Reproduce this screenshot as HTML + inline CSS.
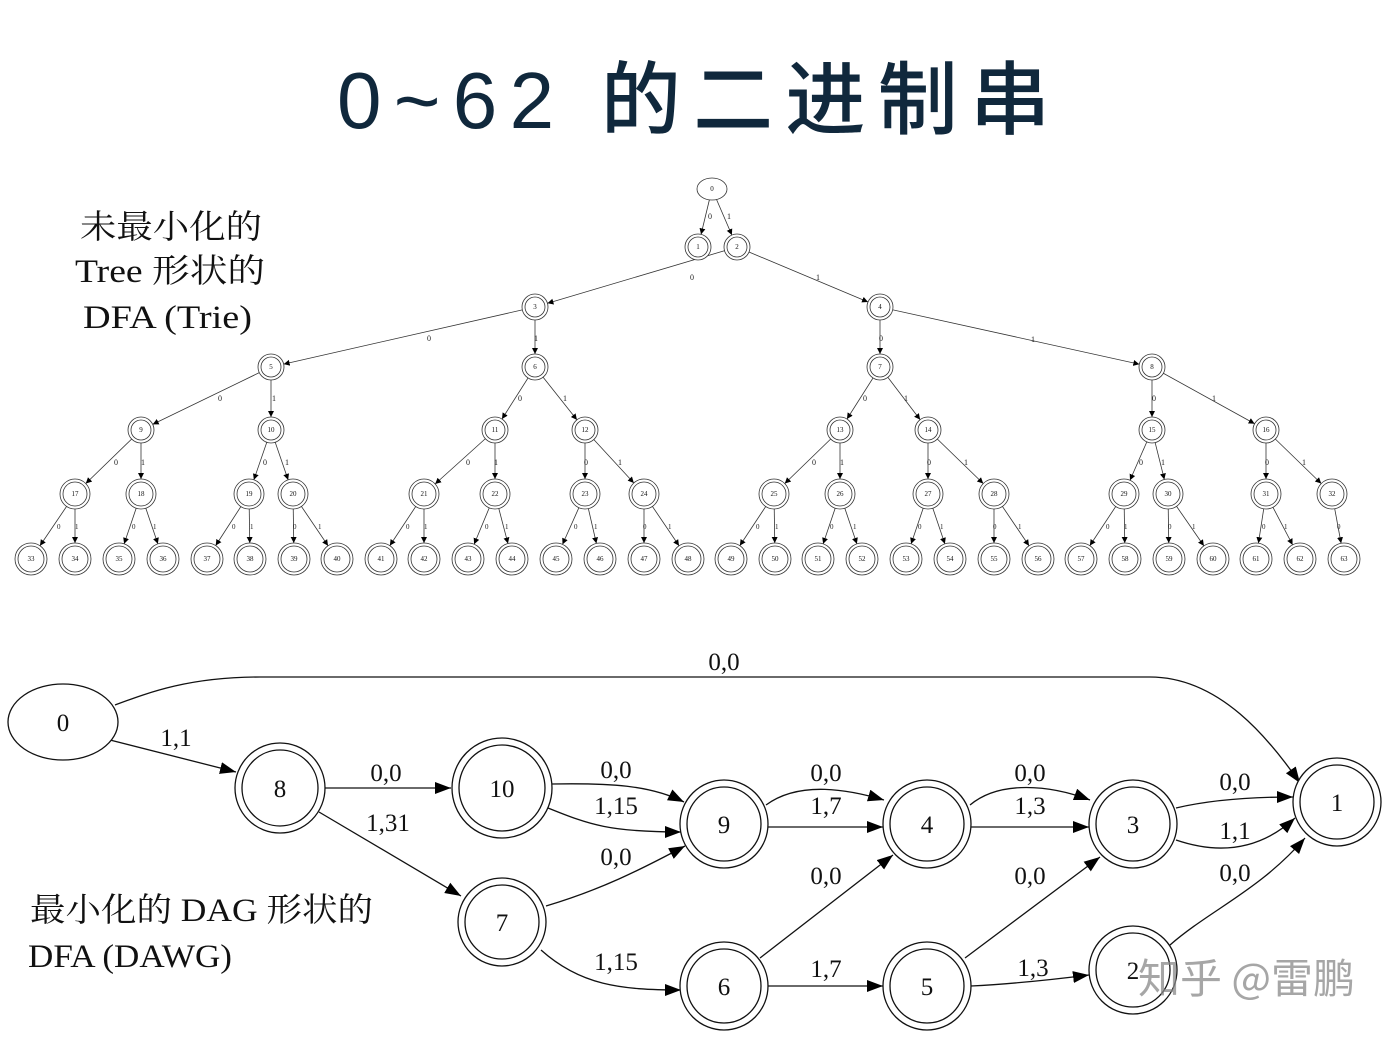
<!DOCTYPE html>
<html><head><meta charset="utf-8"><style>
body{margin:0;background:#fff;width:1391px;height:1037px;overflow:hidden}
svg{display:block}
.t text{font-family:"Liberation Serif",serif;font-size:7px;text-anchor:middle}
.el{font-family:"Liberation Serif",serif;font-size:8px}
.d{font-family:"Liberation Serif",serif;font-size:25px;text-anchor:middle}
.lab{font-family:"Liberation Serif","Noto Serif CJK SC",serif;font-size:33px}
</style></head><body>
<svg width="1391" height="1037" viewBox="0 0 1391 1037" xmlns="http://www.w3.org/2000/svg">
<defs>
<marker id="a13" markerUnits="userSpaceOnUse" markerWidth="40" markerHeight="10" refX="19" refY="3" orient="auto"><path d="M0,0L6,3L0,6z"/></marker>
<marker id="a15" markerUnits="userSpaceOnUse" markerWidth="40" markerHeight="10" refX="21" refY="3" orient="auto"><path d="M0,0L6,3L0,6z"/></marker>
<marker id="a16" markerUnits="userSpaceOnUse" markerWidth="40" markerHeight="10" refX="22" refY="3" orient="auto"><path d="M0,0L6,3L0,6z"/></marker>
<marker id="B" markerUnits="userSpaceOnUse" markerWidth="20" markerHeight="14" refX="16" refY="6" orient="auto"><path d="M0,0L16,6L0,12z"/></marker>
</defs>
<text x="337" y="128" textLength="713" lengthAdjust="spacing" font-family="Liberation Sans,'Noto Sans CJK SC',sans-serif" font-size="80" font-weight="500" fill="#10283c">0~62 的二进制串</text>

<g class="lab" fill="#111">
<text x="80" y="238" textLength="182" lengthAdjust="spacingAndGlyphs">未最小化的</text>
<text x="75" y="282" textLength="190" lengthAdjust="spacingAndGlyphs">Tree 形状的</text>
<text x="83" y="328" textLength="169" lengthAdjust="spacingAndGlyphs">DFA (Trie)</text>
<text x="30" y="921" textLength="343" lengthAdjust="spacingAndGlyphs">最小化的 DAG 形状的</text>
<text x="28" y="967" textLength="204" lengthAdjust="spacingAndGlyphs">DFA (DAWG)</text>
</g>

<!-- tree edges -->
<g stroke="#333" stroke-width="0.8">
<line x1="712" y1="189" x2="698" y2="247" marker-end="url(#a13)"/>
<line x1="712" y1="189" x2="737" y2="247" marker-end="url(#a13)"/>
<line x1="737" y1="247" x2="535" y2="307" marker-end="url(#a13)"/>
<line x1="737" y1="247" x2="880" y2="307" marker-end="url(#a13)"/>
<line x1="535" y1="307" x2="271" y2="367" marker-end="url(#a13)"/>
<line x1="535" y1="307" x2="535" y2="367" marker-end="url(#a13)"/>
<line x1="880" y1="307" x2="880" y2="367" marker-end="url(#a13)"/>
<line x1="880" y1="307" x2="1152" y2="367" marker-end="url(#a13)"/>
<line x1="271" y1="367" x2="141" y2="430" marker-end="url(#a13)"/>
<line x1="271" y1="367" x2="271" y2="430" marker-end="url(#a13)"/>
<line x1="535" y1="367" x2="495" y2="430" marker-end="url(#a13)"/>
<line x1="535" y1="367" x2="585" y2="430" marker-end="url(#a13)"/>
<line x1="880" y1="367" x2="840" y2="430" marker-end="url(#a13)"/>
<line x1="880" y1="367" x2="928" y2="430" marker-end="url(#a13)"/>
<line x1="1152" y1="367" x2="1152" y2="430" marker-end="url(#a13)"/>
<line x1="1152" y1="367" x2="1266" y2="430" marker-end="url(#a13)"/>
<line x1="141" y1="430" x2="75" y2="494" marker-end="url(#a15)"/>
<line x1="141" y1="430" x2="141" y2="494" marker-end="url(#a15)"/>
<line x1="271" y1="430" x2="249" y2="494" marker-end="url(#a15)"/>
<line x1="271" y1="430" x2="293" y2="494" marker-end="url(#a15)"/>
<line x1="495" y1="430" x2="424" y2="494" marker-end="url(#a15)"/>
<line x1="495" y1="430" x2="495" y2="494" marker-end="url(#a15)"/>
<line x1="585" y1="430" x2="585" y2="494" marker-end="url(#a15)"/>
<line x1="585" y1="430" x2="644" y2="494" marker-end="url(#a15)"/>
<line x1="840" y1="430" x2="774" y2="494" marker-end="url(#a15)"/>
<line x1="840" y1="430" x2="840" y2="494" marker-end="url(#a15)"/>
<line x1="928" y1="430" x2="928" y2="494" marker-end="url(#a15)"/>
<line x1="928" y1="430" x2="994" y2="494" marker-end="url(#a15)"/>
<line x1="1152" y1="430" x2="1124" y2="494" marker-end="url(#a15)"/>
<line x1="1152" y1="430" x2="1168" y2="494" marker-end="url(#a15)"/>
<line x1="1266" y1="430" x2="1266" y2="494" marker-end="url(#a15)"/>
<line x1="1266" y1="430" x2="1332" y2="494" marker-end="url(#a15)"/>
<line x1="75" y1="494" x2="31" y2="559" marker-end="url(#a16)"/>
<line x1="75" y1="494" x2="75" y2="559" marker-end="url(#a16)"/>
<line x1="141" y1="494" x2="119" y2="559" marker-end="url(#a16)"/>
<line x1="141" y1="494" x2="163" y2="559" marker-end="url(#a16)"/>
<line x1="249" y1="494" x2="207" y2="559" marker-end="url(#a16)"/>
<line x1="249" y1="494" x2="250" y2="559" marker-end="url(#a16)"/>
<line x1="293" y1="494" x2="294" y2="559" marker-end="url(#a16)"/>
<line x1="293" y1="494" x2="337" y2="559" marker-end="url(#a16)"/>
<line x1="424" y1="494" x2="381" y2="559" marker-end="url(#a16)"/>
<line x1="424" y1="494" x2="424" y2="559" marker-end="url(#a16)"/>
<line x1="495" y1="494" x2="468" y2="559" marker-end="url(#a16)"/>
<line x1="495" y1="494" x2="512" y2="559" marker-end="url(#a16)"/>
<line x1="585" y1="494" x2="556" y2="559" marker-end="url(#a16)"/>
<line x1="585" y1="494" x2="600" y2="559" marker-end="url(#a16)"/>
<line x1="644" y1="494" x2="644" y2="559" marker-end="url(#a16)"/>
<line x1="644" y1="494" x2="688" y2="559" marker-end="url(#a16)"/>
<line x1="774" y1="494" x2="731" y2="559" marker-end="url(#a16)"/>
<line x1="774" y1="494" x2="775" y2="559" marker-end="url(#a16)"/>
<line x1="840" y1="494" x2="818" y2="559" marker-end="url(#a16)"/>
<line x1="840" y1="494" x2="862" y2="559" marker-end="url(#a16)"/>
<line x1="928" y1="494" x2="906" y2="559" marker-end="url(#a16)"/>
<line x1="928" y1="494" x2="950" y2="559" marker-end="url(#a16)"/>
<line x1="994" y1="494" x2="994" y2="559" marker-end="url(#a16)"/>
<line x1="994" y1="494" x2="1038" y2="559" marker-end="url(#a16)"/>
<line x1="1124" y1="494" x2="1081" y2="559" marker-end="url(#a16)"/>
<line x1="1124" y1="494" x2="1125" y2="559" marker-end="url(#a16)"/>
<line x1="1168" y1="494" x2="1169" y2="559" marker-end="url(#a16)"/>
<line x1="1168" y1="494" x2="1213" y2="559" marker-end="url(#a16)"/>
<line x1="1266" y1="494" x2="1256" y2="559" marker-end="url(#a16)"/>
<line x1="1266" y1="494" x2="1300" y2="559" marker-end="url(#a16)"/>
<line x1="1332" y1="494" x2="1344" y2="559" marker-end="url(#a16)"/>
</g>
<g class="el" fill="#222">
<text x="708" y="219">0</text><text x="727" y="219">1</text>
<text x="690" y="280">0</text><text x="816" y="280">1</text>
<text x="427" y="341">0</text><text x="534" y="341">1</text><text x="879" y="341">0</text><text x="1031" y="342">1</text>
<text x="218" y="401">0</text><text x="272" y="401">1</text><text x="518" y="401">0</text><text x="563" y="401">1</text>
<text x="863" y="401">0</text><text x="904" y="401">1</text><text x="1152" y="401">0</text><text x="1212" y="401">1</text>
<text x="114" y="465">0</text><text x="141" y="465">1</text><text x="263" y="465">0</text><text x="285" y="465">1</text>
<text x="466" y="465">0</text><text x="494" y="465">1</text><text x="584" y="465">0</text><text x="618" y="465">1</text>
<text x="812" y="465">0</text><text x="840" y="465">1</text><text x="927" y="465">0</text><text x="964" y="465">1</text>
<text x="1139" y="465">0</text><text x="1161" y="465">1</text><text x="1265" y="465">0</text><text x="1302" y="465">1</text>
<g font-size="7">
<text x="57" y="529">0</text><text x="75" y="529">1</text><text x="132" y="529">0</text><text x="153" y="529">1</text>
<text x="232" y="529">0</text><text x="250" y="529">1</text><text x="293" y="529">0</text><text x="318" y="529">1</text>
<text x="406" y="529">0</text><text x="424" y="529">1</text><text x="485" y="529">0</text><text x="505" y="529">1</text>
<text x="574" y="529">0</text><text x="594" y="529">1</text><text x="643" y="529">0</text><text x="668" y="529">1</text>
<text x="756" y="529">0</text><text x="775" y="529">1</text><text x="830" y="529">0</text><text x="853" y="529">1</text>
<text x="918" y="529">0</text><text x="940" y="529">1</text><text x="993" y="529">0</text><text x="1018" y="529">1</text>
<text x="1106" y="529">0</text><text x="1124" y="529">1</text><text x="1168" y="529">0</text><text x="1192" y="529">1</text>
<text x="1262" y="529">0</text><text x="1284" y="529">1</text><text x="1337" y="529">0</text>
</g>
</g>

<!-- tree nodes -->
<g fill="#fff" stroke="#333" stroke-width="0.8">
<ellipse cx="712" cy="189" rx="15" ry="11"/>
<g>
<circle cx="698" cy="247" r="13"/><circle cx="698" cy="247" r="10"/>
<circle cx="737" cy="247" r="13"/><circle cx="737" cy="247" r="10"/>
<circle cx="535" cy="307" r="13"/><circle cx="535" cy="307" r="10"/>
<circle cx="880" cy="307" r="13"/><circle cx="880" cy="307" r="10"/>
<circle cx="271" cy="367" r="13"/><circle cx="271" cy="367" r="10"/>
<circle cx="535" cy="367" r="13"/><circle cx="535" cy="367" r="10"/>
<circle cx="880" cy="367" r="13"/><circle cx="880" cy="367" r="10"/>
<circle cx="1152" cy="367" r="13"/><circle cx="1152" cy="367" r="10"/>
<circle cx="141" cy="430" r="13"/><circle cx="141" cy="430" r="10"/>
<circle cx="271" cy="430" r="13"/><circle cx="271" cy="430" r="10"/>
<circle cx="495" cy="430" r="13"/><circle cx="495" cy="430" r="10"/>
<circle cx="585" cy="430" r="13"/><circle cx="585" cy="430" r="10"/>
<circle cx="840" cy="430" r="13"/><circle cx="840" cy="430" r="10"/>
<circle cx="928" cy="430" r="13"/><circle cx="928" cy="430" r="10"/>
<circle cx="1152" cy="430" r="13"/><circle cx="1152" cy="430" r="10"/>
<circle cx="1266" cy="430" r="13"/><circle cx="1266" cy="430" r="10"/>
</g>
<g>
<circle cx="75" cy="494" r="15"/><circle cx="75" cy="494" r="12"/>
<circle cx="141" cy="494" r="15"/><circle cx="141" cy="494" r="12"/>
<circle cx="249" cy="494" r="15"/><circle cx="249" cy="494" r="12"/>
<circle cx="293" cy="494" r="15"/><circle cx="293" cy="494" r="12"/>
<circle cx="424" cy="494" r="15"/><circle cx="424" cy="494" r="12"/>
<circle cx="495" cy="494" r="15"/><circle cx="495" cy="494" r="12"/>
<circle cx="585" cy="494" r="15"/><circle cx="585" cy="494" r="12"/>
<circle cx="644" cy="494" r="15"/><circle cx="644" cy="494" r="12"/>
<circle cx="774" cy="494" r="15"/><circle cx="774" cy="494" r="12"/>
<circle cx="840" cy="494" r="15"/><circle cx="840" cy="494" r="12"/>
<circle cx="928" cy="494" r="15"/><circle cx="928" cy="494" r="12"/>
<circle cx="994" cy="494" r="15"/><circle cx="994" cy="494" r="12"/>
<circle cx="1124" cy="494" r="15"/><circle cx="1124" cy="494" r="12"/>
<circle cx="1168" cy="494" r="15"/><circle cx="1168" cy="494" r="12"/>
<circle cx="1266" cy="494" r="15"/><circle cx="1266" cy="494" r="12"/>
<circle cx="1332" cy="494" r="15"/><circle cx="1332" cy="494" r="12"/>
</g>
<g>
<circle cx="31" cy="559" r="16"/><circle cx="31" cy="559" r="13"/>
<circle cx="75" cy="559" r="16"/><circle cx="75" cy="559" r="13"/>
<circle cx="119" cy="559" r="16"/><circle cx="119" cy="559" r="13"/>
<circle cx="163" cy="559" r="16"/><circle cx="163" cy="559" r="13"/>
<circle cx="207" cy="559" r="16"/><circle cx="207" cy="559" r="13"/>
<circle cx="250" cy="559" r="16"/><circle cx="250" cy="559" r="13"/>
<circle cx="294" cy="559" r="16"/><circle cx="294" cy="559" r="13"/>
<circle cx="337" cy="559" r="16"/><circle cx="337" cy="559" r="13"/>
<circle cx="381" cy="559" r="16"/><circle cx="381" cy="559" r="13"/>
<circle cx="424" cy="559" r="16"/><circle cx="424" cy="559" r="13"/>
<circle cx="468" cy="559" r="16"/><circle cx="468" cy="559" r="13"/>
<circle cx="512" cy="559" r="16"/><circle cx="512" cy="559" r="13"/>
<circle cx="556" cy="559" r="16"/><circle cx="556" cy="559" r="13"/>
<circle cx="600" cy="559" r="16"/><circle cx="600" cy="559" r="13"/>
<circle cx="644" cy="559" r="16"/><circle cx="644" cy="559" r="13"/>
<circle cx="688" cy="559" r="16"/><circle cx="688" cy="559" r="13"/>
<circle cx="731" cy="559" r="16"/><circle cx="731" cy="559" r="13"/>
<circle cx="775" cy="559" r="16"/><circle cx="775" cy="559" r="13"/>
<circle cx="818" cy="559" r="16"/><circle cx="818" cy="559" r="13"/>
<circle cx="862" cy="559" r="16"/><circle cx="862" cy="559" r="13"/>
<circle cx="906" cy="559" r="16"/><circle cx="906" cy="559" r="13"/>
<circle cx="950" cy="559" r="16"/><circle cx="950" cy="559" r="13"/>
<circle cx="994" cy="559" r="16"/><circle cx="994" cy="559" r="13"/>
<circle cx="1038" cy="559" r="16"/><circle cx="1038" cy="559" r="13"/>
<circle cx="1081" cy="559" r="16"/><circle cx="1081" cy="559" r="13"/>
<circle cx="1125" cy="559" r="16"/><circle cx="1125" cy="559" r="13"/>
<circle cx="1169" cy="559" r="16"/><circle cx="1169" cy="559" r="13"/>
<circle cx="1213" cy="559" r="16"/><circle cx="1213" cy="559" r="13"/>
<circle cx="1256" cy="559" r="16"/><circle cx="1256" cy="559" r="13"/>
<circle cx="1300" cy="559" r="16"/><circle cx="1300" cy="559" r="13"/>
<circle cx="1344" cy="559" r="16"/><circle cx="1344" cy="559" r="13"/>
</g>
</g>
<g class="t" fill="#111">
<text x="712" y="191">0</text><text x="698" y="249">1</text><text x="737" y="249">2</text>
<text x="535" y="309">3</text><text x="880" y="309">4</text>
<text x="271" y="369">5</text><text x="535" y="369">6</text><text x="880" y="369">7</text><text x="1152" y="369">8</text>
<text x="141" y="432">9</text><text x="271" y="432">10</text><text x="495" y="432">11</text><text x="585" y="432">12</text>
<text x="840" y="432">13</text><text x="928" y="432">14</text><text x="1152" y="432">15</text><text x="1266" y="432">16</text>
<text x="75" y="496">17</text><text x="141" y="496">18</text><text x="249" y="496">19</text><text x="293" y="496">20</text>
<text x="424" y="496">21</text><text x="495" y="496">22</text><text x="585" y="496">23</text><text x="644" y="496">24</text>
<text x="774" y="496">25</text><text x="840" y="496">26</text><text x="928" y="496">27</text><text x="994" y="496">28</text>
<text x="1124" y="496">29</text><text x="1168" y="496">30</text><text x="1266" y="496">31</text><text x="1332" y="496">32</text>
<text x="31" y="561">33</text><text x="75" y="561">34</text><text x="119" y="561">35</text><text x="163" y="561">36</text>
<text x="207" y="561">37</text><text x="250" y="561">38</text><text x="294" y="561">39</text><text x="337" y="561">40</text>
<text x="381" y="561">41</text><text x="424" y="561">42</text><text x="468" y="561">43</text><text x="512" y="561">44</text>
<text x="556" y="561">45</text><text x="600" y="561">46</text><text x="644" y="561">47</text><text x="688" y="561">48</text>
<text x="731" y="561">49</text><text x="775" y="561">50</text><text x="818" y="561">51</text><text x="862" y="561">52</text>
<text x="906" y="561">53</text><text x="950" y="561">54</text><text x="994" y="561">55</text><text x="1038" y="561">56</text>
<text x="1081" y="561">57</text><text x="1125" y="561">58</text><text x="1169" y="561">59</text><text x="1213" y="561">60</text>
<text x="1256" y="561">61</text><text x="1300" y="561">62</text><text x="1344" y="561">63</text>
</g>

<!-- DAG -->
<g fill="none" stroke="#111" stroke-width="1.3">
<path d="M115,705 C150,692 190,677 260,677 L1150,677 C1220,677 1270,740 1300,783" marker-end="url(#B)"/>
<path d="M110,740 L236,772" marker-end="url(#B)"/>
<path d="M325,788 L451,788" marker-end="url(#B)"/>
<path d="M319,812 L461,896" marker-end="url(#B)"/>
<path d="M552,784 C610,783 650,785 684,802" marker-end="url(#B)"/>
<path d="M548,808 C590,825 610,832 681,832" marker-end="url(#B)"/>
<path d="M546,906 C600,890 640,870 685,846" marker-end="url(#B)"/>
<path d="M541,950 C580,985 620,990 681,990" marker-end="url(#B)"/>
<path d="M766,805 C800,780 850,790 884,800" marker-end="url(#B)"/>
<path d="M768,827 L883,827" marker-end="url(#B)"/>
<path d="M760,958 L893,855" marker-end="url(#B)"/>
<path d="M768,986 L883,986" marker-end="url(#B)"/>
<path d="M970,805 C1000,780 1050,785 1090,800" marker-end="url(#B)"/>
<path d="M971,827 L1089,827" marker-end="url(#B)"/>
<path d="M965,958 L1100,857" marker-end="url(#B)"/>
<path d="M971,986 C1010,984 1050,980 1089,975" marker-end="url(#B)"/>
<path d="M1176,808 C1210,800 1250,797 1293,797" marker-end="url(#B)"/>
<path d="M1176,840 C1220,855 1260,850 1295,818" marker-end="url(#B)"/>
<path d="M1170,945 C1210,910 1260,890 1305,838" marker-end="url(#B)"/>
</g>
<g fill="#fff" stroke="#111" stroke-width="1.3">
<ellipse cx="63" cy="722" rx="55" ry="38"/>
<circle cx="280" cy="788" r="45"/><circle cx="280" cy="788" r="38"/>
<circle cx="502" cy="788" r="50"/><circle cx="502" cy="788" r="43"/>
<circle cx="724" cy="824" r="44"/><circle cx="724" cy="824" r="37"/>
<circle cx="502" cy="922" r="44"/><circle cx="502" cy="922" r="37"/>
<circle cx="724" cy="986" r="44"/><circle cx="724" cy="986" r="37"/>
<circle cx="927" cy="824" r="44"/><circle cx="927" cy="824" r="37"/>
<circle cx="927" cy="986" r="44"/><circle cx="927" cy="986" r="37"/>
<circle cx="1133" cy="824" r="44"/><circle cx="1133" cy="824" r="37"/>
<circle cx="1133" cy="970" r="44"/><circle cx="1133" cy="970" r="37"/>
<circle cx="1337" cy="802" r="44"/><circle cx="1337" cy="802" r="37"/>
</g>
<g class="d" fill="#111">
<text x="63" y="731">0</text><text x="280" y="797">8</text><text x="502" y="797">10</text>
<text x="724" y="833">9</text><text x="502" y="931">7</text><text x="724" y="995">6</text>
<text x="927" y="833">4</text><text x="927" y="995">5</text><text x="1133" y="833">3</text>
<text x="1133" y="979">2</text><text x="1337" y="811">1</text>
<text x="724" y="670">0,0</text><text x="176" y="746">1,1</text>
<text x="386" y="781">0,0</text><text x="388" y="831">1,31</text>
<text x="616" y="778">0,0</text><text x="616" y="814">1,15</text><text x="616" y="865">0,0</text><text x="616" y="970">1,15</text>
<text x="826" y="781">0,0</text><text x="826" y="814">1,7</text><text x="826" y="884">0,0</text><text x="826" y="977">1,7</text>
<text x="1030" y="781">0,0</text><text x="1030" y="814">1,3</text><text x="1030" y="884">0,0</text><text x="1033" y="976">1,3</text>
<text x="1235" y="790">0,0</text><text x="1235" y="839">1,1</text><text x="1235" y="881">0,0</text>
</g>
<text x="1138" y="993" textLength="217" lengthAdjust="spacingAndGlyphs" font-family="'Noto Sans CJK SC',sans-serif" font-size="41" fill="#888" fill-opacity="0.75">知乎 @雷鹏</text>
</svg>
</body></html>
